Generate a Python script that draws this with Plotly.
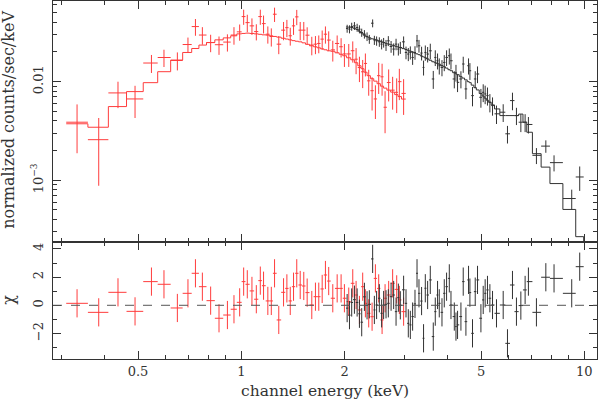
import numpy as np
import plotly.graph_objects as go

# --- red spectrum (low energy instrument) ---
red_energy = [0.332, 0.384, 0.437, 0.490, 0.547, 0.595, 0.651, 0.699, 0.735, 0.770,
              0.814, 0.861, 0.911, 0.952, 0.989, 1.016, 1.041, 1.074, 1.106, 1.136,
              1.161, 1.195, 1.223, 1.250, 1.286, 1.328, 1.358, 1.389, 1.420, 1.451,
              1.485, 1.521, 1.556, 1.605, 1.645, 1.682, 1.721, 1.759, 1.798, 1.848,
              1.903, 1.954, 1.998, 2.057, 2.113, 2.161, 2.210, 2.259, 2.300, 2.352,
              2.406, 2.460, 2.515, 2.573, 2.625, 2.689, 2.762, 2.838, 2.889, 2.973]
red_counts = [0.00388, 0.00258, 0.00769, 0.00668, 0.01545, 0.01758, 0.0164, 0.0238, 0.0362, 0.0297,
              0.0249, 0.0237, 0.0252, 0.0297, 0.0320, 0.0457, 0.0397, 0.0368, 0.0322, 0.0457,
              0.0388, 0.0303, 0.0287, 0.0483, 0.0240, 0.0333, 0.0353, 0.0292, 0.0368, 0.0454,
              0.0333, 0.0333, 0.0296, 0.0235, 0.0240, 0.0244, 0.0270, 0.0303, 0.0264, 0.0210,
              0.0244, 0.0226, 0.0191, 0.0191, 0.0206, 0.0169, 0.0139, 0.0126, 0.0153, 0.0102,
              0.0081, 0.00668, 0.0115, 0.0112, 0.0055, 0.0098, 0.0082, 0.0078, 0.0100, 0.0076]
red_err = [0.0020, 0.0017, 0.0023, 0.0024, 0.0032, 0.0035, 0.0034, 0.0042, 0.007, 0.006,
           0.005, 0.005, 0.005, 0.006, 0.006, 0.008, 0.008, 0.007, 0.006, 0.008,
           0.008, 0.006, 0.006, 0.008, 0.005, 0.007, 0.007, 0.006, 0.007, 0.008,
           0.007, 0.007, 0.006, 0.005, 0.005, 0.005, 0.006, 0.006, 0.006, 0.005,
           0.005, 0.005, 0.005, 0.005, 0.005, 0.005, 0.004, 0.004, 0.004, 0.003,
           0.003, 0.0025, 0.004, 0.004, 0.0025, 0.0035, 0.003, 0.003, 0.0035, 0.003]
red_model = [0.00374, 0.00345, 0.00559, 0.00793, 0.00977, 0.01262, 0.01656, 0.01977, 0.0217, 0.0235,
             0.02494, 0.02655, 0.0278, 0.02917, 0.03053, 0.03083, 0.03105, 0.03083, 0.03053, 0.0302,
             0.02985, 0.02965, 0.02917, 0.02874, 0.02828, 0.02756, 0.02705, 0.02655, 0.02606, 0.0257,
             0.02535, 0.02477, 0.02393, 0.0231, 0.02257, 0.02205, 0.02154, 0.02105, 0.02056, 0.02033,
             0.01963, 0.01896, 0.0183, 0.01747, 0.01668, 0.01556, 0.01451, 0.01353, 0.01247, 0.0115,
             0.01072, 0.01012, 0.00954, 0.00901, 0.0086, 0.00821, 0.00783, 0.00739, 0.00706, 0.00666]
red_chi = [0.14, -0.50, 0.92, -0.43, 1.68, 1.49, -0.19, 0.85, 2.27, 1.32,
           0.33, -0.92, -0.69, -0.28, 0.21, 1.68, 1.49, 1.02, 0.43, 1.75,
           1.39, 0.31, 0.31, 2.27, -1.04, 0.92, 1.2, 0.31, 1.32, 2.27,
           1.44, 1.37, 0.9, 0.02, 0.61, 0.61, 1.16, 2.15, 1.72, 0.5,
           1.2, 1.2, 0.5, 0.26, 1.56, 0.73, -0.33, 1.32, 0.14, -0.57,
           -0.81, 1.91, 1.2, -1.04, 0.5, 0.73, 1.56, 1.13, 0.38, -0.45]

# --- black spectrum (high energy instrument) ---
black_energy = [2.035, 2.067, 2.098, 2.137, 2.176, 2.210, 2.244, 2.285, 2.326, 2.362,
                2.415, 2.443, 2.480, 2.526, 2.565, 2.600, 2.642, 2.683, 2.733, 2.781,
                2.826, 2.870, 2.908, 2.973, 3.021, 3.068, 3.110, 3.158, 3.209, 3.253,
                3.296, 3.354, 3.399, 3.439, 3.493, 3.556, 3.628, 3.677, 3.734, 3.777,
                3.846, 3.906, 3.967, 4.040, 4.086, 4.178, 4.225, 4.270, 4.368, 4.436,
                4.517, 4.597, 4.640, 4.721, 4.808, 4.883, 4.995, 5.073, 5.140, 5.220,
                5.305, 5.400, 5.546, 5.801, 5.970, 6.174, 6.341, 6.531, 6.721, 6.871,
                7.251, 7.724, 8.161, 9.190, 9.696]
black_counts = [0.03455, 0.03407, 0.0362, 0.03679, 0.03536, 0.03407, 0.03148, 0.03032, 0.02869, 0.027,
                0.03916, 0.02638, 0.02595, 0.02535, 0.02403, 0.02495, 0.02348, 0.02595, 0.02273, 0.0214,
                0.02403, 0.0214, 0.02221, 0.02535, 0.01977, 0.01905, 0.01977, 0.0176, 0.01977, 0.02595,
                0.0231, 0.0195, 0.01394, 0.01977, 0.01905, 0.02056, 0.01065, 0.0176, 0.0163, 0.01451,
                0.01394, 0.01567, 0.0176, 0.0183, 0.0163, 0.01065, 0.01241, 0.00984, 0.01065, 0.0151,
                0.00844, 0.01451, 0.01291, 0.00722, 0.01065, 0.01196, 0.00694, 0.0078, 0.00751, 0.00722,
                0.00618, 0.00572, 0.00472, 0.0049, 0.00296, 0.00643, 0.00453, 0.00388, 0.00388, 0.00368,
                0.00179, 0.00222, 0.00151, 0.000653, 0.00108]
black_err = [0.0032, 0.0032, 0.0034, 0.0034, 0.0033, 0.0032, 0.0030, 0.0030, 0.0029, 0.0028,
             0.0036, 0.0028, 0.0028, 0.0028, 0.0028, 0.0028, 0.0030, 0.0030, 0.0031, 0.0030,
             0.0032, 0.0030, 0.0031, 0.0034, 0.0029, 0.0029, 0.0030, 0.0028, 0.0031, 0.0038,
             0.0034, 0.0031, 0.0024, 0.0035, 0.0034, 0.0037, 0.0022, 0.0032, 0.0030, 0.0027,
             0.0026, 0.0029, 0.0032, 0.0034, 0.0030, 0.0021, 0.0024, 0.0020, 0.0021, 0.0028,
             0.0018, 0.0027, 0.0025, 0.0016, 0.0021, 0.0023, 0.0015, 0.0016, 0.0016, 0.0015,
             0.0013, 0.0012, 0.0010, 0.0010, 0.0006, 0.0013, 0.0009, 0.0008, 0.0008, 0.0007,
             0.00033, 0.00032, 0.00028, 0.00015, 0.00030]
black_model = [0.03585, 0.03569, 0.03544, 0.03479, 0.03383, 0.03244, 0.03111, 0.02963, 0.02855, 0.02782,
               0.02718, 0.02687, 0.02643, 0.02595, 0.02541, 0.02495, 0.02448, 0.02409, 0.02364, 0.0232,
               0.02283, 0.02246, 0.02215, 0.02164, 0.02119, 0.02075, 0.02037, 0.01995, 0.0195, 0.01913,
               0.01878, 0.01822, 0.01784, 0.01747, 0.01699, 0.01649, 0.01592, 0.01556, 0.01527, 0.01502,
               0.01454, 0.01417, 0.01372, 0.01322, 0.01291, 0.01233, 0.01204, 0.01177, 0.01123, 0.01087,
               0.01043, 0.01, 0.00977, 0.00922, 0.0087, 0.00824, 0.00758, 0.00715, 0.0068, 0.00647,
               0.00618, 0.00581, 0.00529, 0.00453, 0.00453, 0.00453, 0.00453, 0.00469, 0.00388, 0.00307,
               0.00186, 0.00136, 0.000926, 0.000506, 0.000268]
black_model_tail = 0.00012  # next model bin, below the plotted range
black_tail_end = 11.0
black_chi = [-0.2, -0.7, 0.2, 0.4, 0.2, -0.6, -1.2, 0.6, 0.0, 0.07,
             3.29, -0.33, 0.02, 0.5, -0.57, 0.02, 0.07, 0.14, 0.61, 0.73,
             -0.45, 0.54, 0.0, 1.1, 0.14, -1.28, -1.39, -0.8, 0.1, 2.27,
             0.85, 0.3, -2.34, 1.21, 0.73, 1.8, -2.22, -0.45, 0.73, 0.14,
             -0.5, 0.85, 1.32, 1.91, 0.02, -0.8, -1.51, -1.39, -0.8, 1.68,
             -1.16, 1.8, 0.9, -1.99, 0.97, 1.8, -0.92, 0.38, 0.85, 1.09,
             0.5, 0.02, -0.57, 0.02, -2.7, 1.44, -0.45, -0.02, 1.09, 1.68,
             -0.5, 1.99, 1.91, 0.85, 2.74]

RED = "rgb(255,60,60)"
BLACK = "rgb(50,50,50)"
AXIS = "#333"
FONT = "DejaVu Serif"


def bin_edges(centres):
    # contiguous channels: edges halfway (in log) between neighbouring centres
    e = np.asarray(centres, dtype=float)
    mid = np.sqrt(e[:-1] * e[1:])
    lo = np.concatenate([[e[0] ** 2 / mid[0]], mid])
    hi = np.concatenate([mid, [e[-1] ** 2 / mid[-1]]])
    return lo, hi


def data_trace(energy, y, yerr, colour, xa, ya):
    e = np.asarray(energy)
    lo, hi = bin_edges(e)
    if yerr is None:
        ey = dict(type="constant", value=1, width=0, thickness=1, color=colour)
    else:
        ey = dict(type="data", array=yerr, width=0, thickness=1, color=colour)
    return go.Scatter(
        x=e, y=y, mode="markers",
        marker=dict(size=1, color="rgba(0,0,0,0)"),
        error_y=ey,
        error_x=dict(type="data", array=hi - e, arrayminus=e - lo,
                     width=0, thickness=1, color=colour),
        xaxis=xa, yaxis=ya, hoverinfo="skip",
    )


def model_trace(energy, model, colour, tail=None):
    lo, hi = bin_edges(energy)
    xs = list(lo) + [hi[-1]]
    ys = list(model) + [model[-1]]
    if tail is not None:
        xs += [tail[1]]
        ys[-1] = tail[0]
        ys += [tail[0]]
    return go.Scatter(x=xs, y=ys, mode="lines",
                      line=dict(shape="hv", color=colour, width=1),
                      xaxis="x2", yaxis="y2", hoverinfo="skip")


fig = go.Figure()
fig.add_trace(data_trace(red_energy, red_counts, red_err, RED, "x2", "y2"))
fig.add_trace(model_trace(red_energy, red_model, RED))
fig.add_trace(data_trace(black_energy, black_counts, black_err, BLACK, "x2", "y2"))
fig.add_trace(model_trace(black_energy, black_model, BLACK,
                          tail=(black_model_tail, black_tail_end)))
fig.add_trace(data_trace(red_energy, red_chi, None, RED, "x", "y"))
fig.add_trace(data_trace(black_energy, black_chi, None, BLACK, "x", "y"))

split = 0.3268
common = dict(showline=True, linecolor=AXIS, linewidth=1, mirror="allticks",
              ticks="inside", ticklen=8, tickwidth=1, tickcolor=AXIS,
              showgrid=False, zeroline=False, automargin=False)
xminor = dict(tickvals=[0.3, 0.4, 0.6, 0.7, 0.8, 0.9, 3, 4, 6, 7, 8, 9],
              ticks="inside", ticklen=4, tickcolor=AXIS)

fig.update_layout(
    width=598, height=402,
    margin=dict(l=53, r=1, t=1, b=43),
    plot_bgcolor="white", paper_bgcolor="white",
    showlegend=False,
    font=dict(family=FONT, size=13, color=AXIS),
    xaxis=dict(common, type="log", range=[-0.549, 1.037], domain=[0, 1], anchor="y",
               tickvals=[0.5, 1, 2, 5, 10], ticktext=["0.5", "1", "2", "5", "10"],
               minor=xminor, ticklabelstandoff=0),
    xaxis2=dict(common, type="log", range=[-0.549, 1.037], domain=[0, 1], anchor="y2",
                matches="x", tickvals=[0.5, 1, 2, 5, 10], showticklabels=False,
                minor=xminor),
    yaxis=dict(common, domain=[0, split], range=[-3.81, 4.49], anchor="x",
               tickvals=[-2, 0, 2, 4], ticktext=["\u22122", "0", "2", "4"], tickangle=-90,
               ticklabelstandoff=4,
               minor=dict(tickvals=[-3, -1, 1, 3], ticks="inside", ticklen=4, tickcolor=AXIS)),
    yaxis2=dict(common, type="log", domain=[split, 1], range=[-3.626, -1.182], anchor="x2",
                tickvals=[0.001, 0.01], ticktext=["10<sup>\u22123</sup>", "0.01"], tickangle=-90,
                ticklabelstandoff=4,
                minor=dict(tickvals=[3e-4, 4e-4, 5e-4, 6e-4, 7e-4, 8e-4, 9e-4,
                                     2e-3, 3e-3, 4e-3, 5e-3, 6e-3, 7e-3, 8e-3, 9e-3,
                                     0.02, 0.03, 0.04, 0.05, 0.06],
                           ticks="inside", ticklen=4, tickcolor=AXIS)),
)

fig.add_shape(type="line", xref="x domain", x0=0, x1=1, yref="y", y0=0, y1=0,
              line=dict(color="#555", width=1, dash="dash"))

fig.add_annotation(text="normalized counts/sec/keV", xref="paper", yref="paper",
                   x=-0.081, y=0.668, xanchor="center", yanchor="middle",
                   textangle=-90, showarrow=False,
                   font=dict(family=FONT, size=16, color=AXIS))
fig.add_annotation(text="\u03c7", xref="paper", yref="paper",
                   x=-0.081, y=0.165, xanchor="center", yanchor="middle",
                   textangle=-90, showarrow=False,
                   font=dict(family=FONT, size=16, color=AXIS))
fig.add_annotation(text="channel energy (keV)", xref="paper", yref="paper",
                   x=0.5, y=-0.089, xanchor="center", yanchor="middle",
                   showarrow=False, font=dict(family=FONT, size=15.5, color=AXIS))

# the page body keeps its default 8px margin otherwise
fig.write_html("out.html", config={"displayModeBar": False},
               post_script="document.body.style.margin='0px';")
